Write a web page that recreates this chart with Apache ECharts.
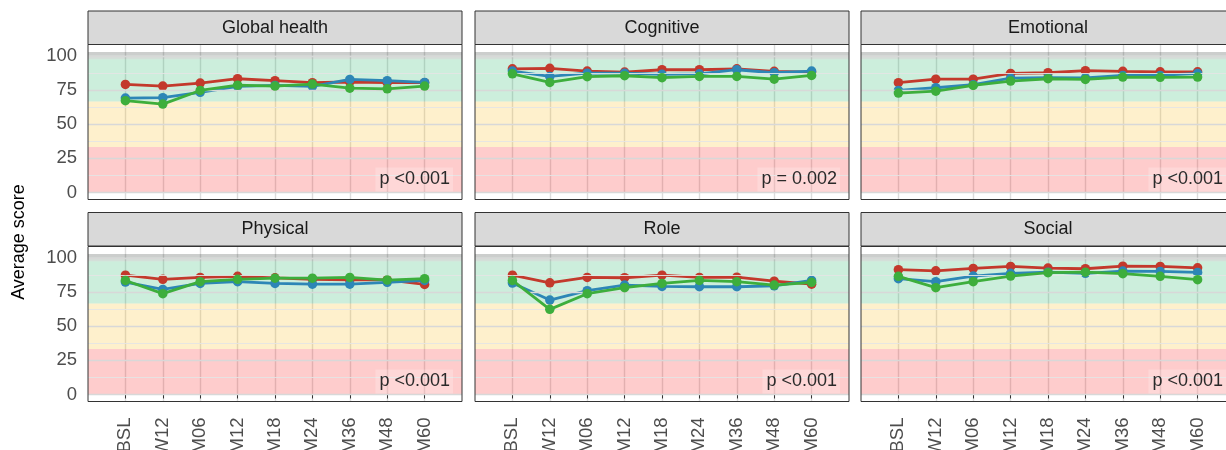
<!DOCTYPE html>
<html>
<head>
<meta charset="utf-8">
<script src="https://cdn.jsdelivr.net/npm/echarts@6/dist/echarts.min.js"></script>
<style>
  html, body { margin: 0; padding: 0; background: #ffffff; }
  #chart { width: 1226px; height: 450px; }
</style>
</head>
<body>
<div id="chart"></div>
<script>
// Visit schedule and quality-of-life domains
const timepoints = ["BSL", "W12", "M06", "M12", "M18", "M24", "M36", "M48", "M60"];
const domains = ["Global health", "Cognitive", "Emotional", "Physical", "Role", "Social"];
const pLabels = ["p <0.001", "p = 0.002", "p <0.001", "p <0.001", "p <0.001", "p <0.001"];
const yTicks = [0, 25, 50, 75, 100];
const yMinorTicks = [12.5, 37.5, 62.5, 87.5];

// Mean scores per group (A = red, B = blue, C = green)
const globalHealthA = [79.2, 78.0, 80.2, 83.4, 82.0, 80.5, 81.0, 80.5, 80.5];
const globalHealthB = [69.2, 69.5, 73.4, 77.8, 78.5, 77.8, 82.9, 82.0, 80.7];
const globalHealthC = [67.3, 64.8, 74.8, 78.7, 78.0, 79.5, 76.5, 76.0, 78.0];

const cognitiveA = [90.7, 91.0, 89.0, 88.3, 90.0, 90.0, 90.7, 88.8, 88.3];
const cognitiveB = [89.0, 85.1, 87.5, 87.5, 86.6, 87.0, 90.0, 87.8, 89.0];
const cognitiveC = [87.0, 80.7, 84.9, 85.6, 84.2, 85.1, 85.1, 83.1, 85.8];

const emotionalA = [80.5, 83.1, 83.1, 87.3, 87.8, 89.3, 88.8, 88.5, 88.5];
const emotionalB = [74.8, 76.8, 79.0, 83.9, 84.2, 84.1, 85.8, 85.8, 87.3];
const emotionalC = [72.9, 74.3, 78.5, 81.7, 83.4, 82.9, 84.6, 84.4, 84.6];

const physicalA = [87.5, 84.4, 85.8, 86.6, 85.5, 84.5, 84.0, 84.0, 80.7];
const physicalB = [82.4, 77.0, 81.4, 82.7, 81.4, 80.9, 80.9, 82.2, 83.6];
const physicalC = [83.6, 73.9, 82.7, 84.4, 85.3, 85.3, 85.8, 83.9, 84.9];

const roleA = [87.5, 81.9, 85.8, 85.6, 87.5, 85.8, 86.0, 83.1, 80.9];
const roleB = [81.7, 69.2, 76.1, 80.2, 79.2, 79.0, 79.0, 79.7, 83.6];
const roleC = [83.6, 62.4, 73.9, 78.3, 81.4, 83.6, 82.7, 80.2, 82.2];

const socialA = [91.5, 90.7, 92.4, 93.9, 92.7, 92.2, 94.1, 93.9, 92.9];
const socialB = [84.9, 82.7, 86.8, 88.8, 89.7, 88.8, 90.5, 90.2, 89.5];
const socialC = [86.6, 78.3, 82.7, 86.8, 89.3, 89.7, 88.6, 86.6, 84.2];

const panelScores = [
  [globalHealthA, globalHealthB, globalHealthC],
  [cognitiveA, cognitiveB, cognitiveC],
  [emotionalA, emotionalB, emotionalC],
  [physicalA, physicalB, physicalC],
  [roleA, roleB, roleC],
  [socialA, socialB, socialC]
];

// Score bands: poor / intermediate / good, with a grey cap near the ceiling
const bands = [
  { from: 0, to: 33.3, color: "rgba(250,0,0,0.2)" },
  { from: 33.3, to: 66.7, color: "rgba(250,180,0,0.2)" },
  { from: 66.7, to: 97.6, color: "rgba(0,170,80,0.2)" },
  { from: 97.6, to: 100.5, color: "rgba(60,110,80,0.22)" },
  { from: 100.5, to: 103, color: "rgba(40,50,45,0.24)" }
];

const groupColors = ["#c3392c", "#2d86b6", "#3dae3c"];
const groupNames = ["Group A", "Group B", "Group C"];

// Facet layout (pixels)
const colLeft = [88, 475, 861];
const panelW = 374;
const stripTop = [11, 212.5];
const stripH = 33.5;
const plotTop = [44.5, 246.5];
const plotH = 155;
const FONT = "Liberation Sans, Arial, sans-serif";

const grids = [], xAxes = [], yAxes = [], series = [], graphics = [];

domains.forEach((name, i) => {
  const row = Math.floor(i / 3), col = i % 3;
  const left = colLeft[col];
  grids.push({ left: left, top: plotTop[row], width: panelW, height: plotH,
    containLabel: false, outerBoundsMode: "none" });

  xAxes.push({
    gridIndex: i, type: "value", min: -1, max: 9, interval: 1,
    axisLine: { show: false },
    axisTick: { show: row === 1, length: 4, customValues: [0, 1, 2, 3, 4, 5, 6, 7, 8],
      lineStyle: { color: "#333333", width: 1 } },
    axisLabel: { show: row === 1, rotate: 90, margin: 16, fontSize: 18.5, fontFamily: FONT,
      color: "#4d4d4d", customValues: [0, 1, 2, 3, 4, 5, 6, 7, 8],
      formatter: v => timepoints[v] || "" },
    splitLine: { show: true, lineStyle: { color: "#dcdcdc", width: 1.4 } }
  });

  yAxes.push({
    gridIndex: i, type: "value", min: -5.15, max: 108.5,
    axisLine: { show: false },
    axisTick: { show: col === 0, length: 5, customValues: yTicks,
      lineStyle: { color: "#333333", width: 1 } },
    axisLabel: { show: col === 0, margin: 11, fontSize: 18.5, fontFamily: FONT,
      color: "#4d4d4d", customValues: yTicks },
    splitLine: { show: false }
  });

  // horizontal grid lines (major and minor)
  series.push({
    type: "line", xAxisIndex: i, yAxisIndex: i, data: [], silent: true, z: 1,
    markLine: {
      silent: true, symbol: "none", label: { show: false }, animation: false,
      data: yTicks.map(v => ({ yAxis: v, lineStyle: { color: "#d8d8d8", width: 1.4, type: "solid" } }))
        .concat(yMinorTicks.map(v => ({ yAxis: v, lineStyle: { color: "#e4e4e4", width: 0.9, type: "solid" } })))
    }
  });

  // score bands
  series.push({
    type: "line", xAxisIndex: i, yAxisIndex: i, data: [], silent: true, z: 2,
    markArea: {
      silent: true, animation: false,
      data: bands.map(b => [{ yAxis: b.from, itemStyle: { color: b.color } }, { yAxis: b.to }])
    }
  });

  // group trajectories
  panelScores[i].forEach((vals, g) => {
    series.push({
      name: groupNames[g], type: "line", xAxisIndex: i, yAxisIndex: i, z: 3 + g,
      data: vals.map((v, k) => [k, v]),
      symbol: "circle", symbolSize: 9.5, showSymbol: true,
      lineStyle: { color: groupColors[g], width: 2.8 },
      itemStyle: { color: groupColors[g] },
      animation: false
    });
  });

  // strip header
  graphics.push({
    type: "rect", z: 100,
    shape: { x: left, y: stripTop[row], width: panelW, height: stripH },
    style: { fill: "#d9d9d9", stroke: "#333333", lineWidth: 1 }
  });
  graphics.push({
    type: "text", z: 101,
    x: left + panelW / 2, y: stripTop[row] + stripH / 2,
    style: { text: name, fill: "#1a1a1a", font: "18px " + FONT, align: "center", verticalAlign: "middle" }
  });
  // panel border
  graphics.push({
    type: "rect", z: 100,
    shape: { x: left, y: plotTop[row], width: panelW, height: plotH },
    style: { fill: "none", stroke: "#333333", lineWidth: 1 }
  });
  // p-value annotation
  graphics.push({
    type: "text", z: 102,
    x: left + panelW - 9, y: plotTop[row] + plotH - 20,
    style: { text: pLabels[i], fill: "#2a2a2a", font: "18px " + FONT, align: "right", verticalAlign: "middle",
      backgroundColor: "rgba(255,255,255,0.22)", padding: [3, 3, 3, 4] }
  });
});

// shared y-axis title
graphics.push({
  type: "text", z: 102, x: 19, y: 242, rotation: Math.PI / 2,
  style: { text: "Average score", fill: "#000000", font: "18px " + FONT, align: "center", verticalAlign: "middle" }
});

const chart = echarts.init(document.getElementById("chart"), null, { renderer: "canvas" });
chart.setOption({
  animation: false,
  backgroundColor: "#ffffff",
  grid: grids,
  xAxis: xAxes,
  yAxis: yAxes,
  series: series,
  graphic: graphics
});
</script>
</body>
</html>
